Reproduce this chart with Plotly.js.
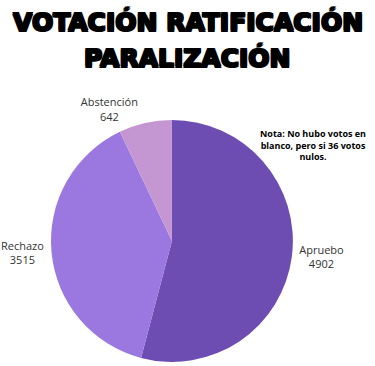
<!DOCTYPE html>
<html>
<head>
<meta charset="utf-8">
<script src="https://cdn.plot.ly/plotly-3.0.1.min.js"></script>
<style>html,body{margin:0;padding:0;background:#fff;}#chart{width:375px;height:366px;}</style>
</head>
<body>
<div id="chart"></div>
<script>
const categories = ["Apruebo", "Rechazo", "Abstención"];
const votes = [4902, 3515, 642];
const colors = ["#6e4db3", "#9b77e0", "#c497d2"];
const titleLines = ["VOTACIÓN RATIFICACIÓN", "PARALIZACIÓN"];
const noteText = "Nota: No hubo votos en<br>blanco, pero si 36 votos<br>nulos.";

const trace = {
  type: "pie",
  labels: categories,
  values: votes,
  sort: false,
  direction: "clockwise",
  rotation: 0,
  marker: {colors: colors, line: {width: 0}},
  textinfo: "label+value",
  texttemplate: "%{label}<br>%{value}",
  textposition: "outside",
  outsidetextfont: {family: "Open Sans", size: 11, color: "#333"},
  hoverinfo: "label+value",
  domain: {x: [0.136, 0.781], y: [0.011, 0.672]},
  automargin: false,
  showlegend: false
};

const titleFont = {family: "DejaVu Sans", size: 25, color: "#000", weight: 900,
  shadow: "1px 1px 0 #000, -1px -1px 0 #000, 1px -1px 0 #000, -1px 1px 0 #000"};

const layout = {
  width: 375, height: 366,
  margin: {l: 0, r: 0, t: 0, b: 0},
  paper_bgcolor: "#fff",
  plot_bgcolor: "#fff",
  showlegend: false,
  annotations: [
    {text: titleLines[0], xref: "paper", yref: "paper", x: 0.5, y: 1 - 22/366,
     xanchor: "center", yanchor: "middle", showarrow: false, font: titleFont},
    {text: titleLines[1], xref: "paper", yref: "paper", x: 0.5, y: 1 - 58/366,
     xanchor: "center", yanchor: "middle", showarrow: false, font: titleFont},
    {text: noteText, xref: "paper", yref: "paper",
     x: 313/375, y: 1 - 145/366, xanchor: "center", yanchor: "middle",
     showarrow: false, align: "center",
     font: {family: "Open Sans", size: 9, color: "#000", weight: 700}}
  ]
};

Plotly.newPlot("chart", [trace], layout, {displayModeBar: false, staticPlot: true});
</script>
</body>
</html>
